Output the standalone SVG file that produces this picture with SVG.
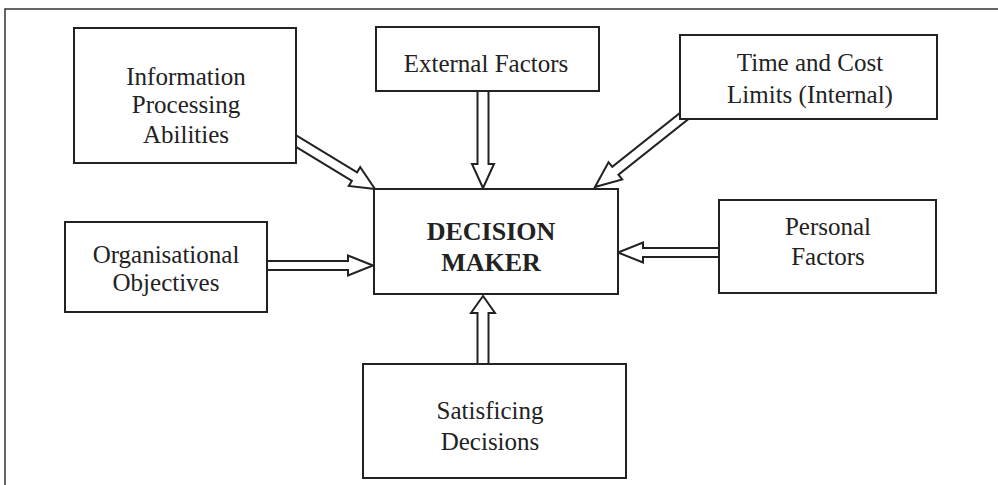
<svg xmlns="http://www.w3.org/2000/svg" width="998" height="485" viewBox="0 0 998 485">
  <style>
    .frame { fill: none; stroke: #333; stroke-width: 1.5; }
    .box { fill: #fff; stroke: #222; stroke-width: 2; }
    .arrow { fill: #fff; stroke: #222; stroke-width: 2; stroke-linejoin: miter; }
    .label { font-family: "Liberation Serif", "Times New Roman", serif; font-size: 25px; fill: #222; text-anchor: middle; }
    .title { font-family: "Liberation Serif", "Times New Roman", serif; font-size: 26px; font-weight: bold; fill: #222; text-anchor: middle; }
  </style>
  <defs>
    <!-- hollow block arrow: tip at origin, pointing +x, shaft runs back to x=-L -->
    <path id="arrow100" d="M0,0 L-24,-11 L-24,-5 L-100,-5 L-100,5 L-24,5 L-24,11 Z"/>
    <path id="arrow115" d="M0,0 L-26,-11 L-26,-5 L-115,-5 L-115,5 L-26,5 L-26,11 Z"/>
    <path id="arrow103" d="M0,0 L-24,-11 L-24,-5.5 L-103,-5.5 L-103,5.5 L-24,5.5 L-24,11 Z"/>
    <path id="arrow111" d="M0,0 L-25,-10 L-25,-4.5 L-111,-4.5 L-111,4.5 L-25,4.5 L-25,10 Z"/>
    <path id="arrow107" d="M0,0 L-25,-10 L-25,-4.5 L-107,-4.5 L-107,4.5 L-25,4.5 L-25,10 Z"/>
    <path id="arrow74" d="M0,0 L-17,-12 L-17,-5.5 L-74,-5.5 L-74,5.5 L-17,5.5 L-17,12 Z"/>
  </defs>

  <!-- outer frame: top and left edges only -->
  <path class="frame" d="M5,485 L5,9 L998,9"/>

  <g id="connectors">
    <use href="#arrow100" class="arrow" transform="translate(375,189) rotate(31.3)"/>
    <use href="#arrow103" class="arrow" transform="translate(483,188) rotate(90)"/>
    <use href="#arrow115" class="arrow" transform="translate(595,187) rotate(141.5)"/>
    <use href="#arrow111" class="arrow" transform="translate(373,265.5)"/>
    <use href="#arrow107" class="arrow" transform="translate(618,252.5) rotate(180)"/>
    <use href="#arrow74" class="arrow" transform="translate(483,296) rotate(-90)"/>
  </g>

  <g id="info-processing">
    <rect class="box" x="74" y="28" width="222" height="135"/>
    <text class="label" x="186" y="85">Information</text>
    <text class="label" x="186" y="113">Processing</text>
    <text class="label" x="186" y="143">Abilities</text>
  </g>

  <g id="external-factors">
    <rect class="box" x="376" y="27" width="223" height="64"/>
    <text class="label" x="486" y="72">External Factors</text>
  </g>

  <g id="time-cost">
    <rect class="box" x="680" y="35" width="257" height="84"/>
    <text class="label" x="810" y="71">Time and Cost</text>
    <text class="label" x="810" y="103">Limits (Internal)</text>
  </g>

  <g id="org-objectives">
    <rect class="box" x="65" y="222" width="202" height="90"/>
    <text class="label" x="166" y="263">Organisational</text>
    <text class="label" x="166" y="291">Objectives</text>
  </g>

  <g id="decision-maker">
    <rect class="box" x="374" y="189" width="244" height="105"/>
    <text class="title" x="491" y="240">DECISION</text>
    <text class="title" x="491" y="271">MAKER</text>
  </g>

  <g id="personal-factors">
    <rect class="box" x="719" y="200" width="217" height="93"/>
    <text class="label" x="828" y="235">Personal</text>
    <text class="label" x="828" y="265">Factors</text>
  </g>

  <g id="satisficing">
    <rect class="box" x="363" y="364" width="263" height="114"/>
    <text class="label" x="490" y="419">Satisficing</text>
    <text class="label" x="490" y="450">Decisions</text>
  </g>
</svg>
